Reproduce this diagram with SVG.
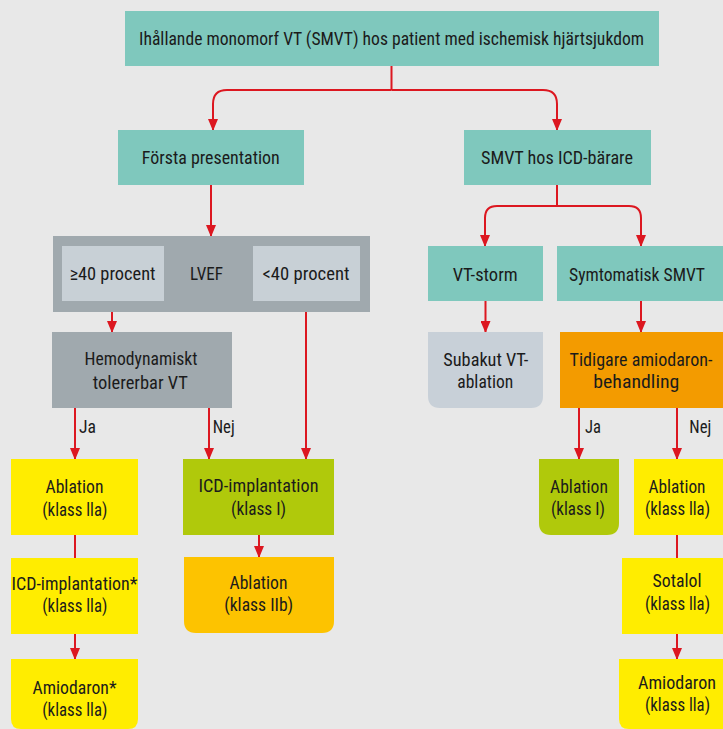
<svg xmlns="http://www.w3.org/2000/svg" width="723" height="729" viewBox="0 0 723 729">
<style>
.t{font-family:"Liberation Sans Narrow","Roboto Condensed","DejaVu Sans Condensed","Liberation Sans",sans-serif;font-size:19px;fill:#1b1b1b;text-anchor:middle}
.s{text-anchor:start}
.teal{fill:#7fc8bd}
.grey{fill:#a0a9ae}
.light{fill:#c8d0d6}
.yellow{fill:#ffed00}
.green{fill:#b0c90b}
.lorange{fill:#fdc300}
.orange{fill:#f39b00}
.c{fill:none;stroke:#dc1720;stroke-width:2}
.a{marker-end:url(#ah)}
</style>
<defs>
<marker id="ah" markerUnits="userSpaceOnUse" viewBox="0 0 12 10" refX="11" refY="5" markerWidth="12" markerHeight="10" orient="auto">
<path d="M0,0 L12,5 L0,10 z" fill="#dc1720"/>
</marker>
</defs>
<rect width="723" height="729" fill="#e8e8e8"/>

<g id="connectors">
<path class="c" d="M391.5,66 V90"/>
<path class="c a" d="M391.5,90 H227 Q213,90 213,104 V130"/>
<path class="c a" d="M391.5,90 H543 Q557,90 557,104 V130"/>
<path class="c a" d="M211,185 V236"/>
<path class="c a" d="M112,293 V332"/>
<path class="c a" d="M306,293 V459"/>
<path class="c a" d="M75,408 V459"/>
<path class="c a" d="M209,408 V459"/>
<path class="c" d="M75,535 V558"/>
<path class="c a" d="M75,634 V659"/>
<path class="c a" d="M259,535 V557"/>
<path class="c" d="M557,185 V206"/>
<path class="c a" d="M557,206 H497 Q485,206 485,218 V246"/>
<path class="c a" d="M557,206 H629 Q641,206 641,218 V246"/>
<path class="c a" d="M485.5,301 V332"/>
<path class="c a" d="M641,301 V332"/>
<path class="c a" d="M579,408 V459"/>
<path class="c a" d="M677,408 V459"/>
<path class="c" d="M677,535 V558"/>
<path class="c a" d="M677,634 V659"/>
</g>

<g id="n-top">
<rect class="teal" x="125" y="11" width="534" height="55"/>
<text class="t" x="391.5" y="45" textLength="505" lengthAdjust="spacingAndGlyphs">Ihållande monomorf VT (SMVT) hos patient med ischemisk hjärtsjukdom</text>
</g>

<g id="n-forsta">
<rect class="teal" x="118" y="130" width="186" height="55"/>
<text class="t" x="210.8" y="164" textLength="138" lengthAdjust="spacingAndGlyphs">Första presentation</text>
</g>

<g id="n-icdbarare">
<rect class="teal" x="464" y="130" width="187" height="55"/>
<text class="t" x="557" y="164" textLength="152" lengthAdjust="spacingAndGlyphs">SMVT hos ICD-bärare</text>
</g>

<g id="n-lvef">
<rect class="grey" x="53" y="236" width="317" height="76"/>
<text class="t" x="206.5" y="280" textLength="33" lengthAdjust="spacingAndGlyphs">LVEF</text>
</g>

<g id="n-ge40">
<rect class="light" x="62" y="246" width="102" height="55"/>
<text class="t" x="112.5" y="280" textLength="86" lengthAdjust="spacingAndGlyphs">≥40 procent</text>
</g>

<g id="n-lt40">
<rect class="light" x="253" y="246" width="107" height="55"/>
<text class="t" x="306" y="280" textLength="87" lengthAdjust="spacingAndGlyphs">&lt;40 procent</text>
</g>

<g id="n-hemo">
<rect class="grey" x="52" y="332" width="180" height="76"/>
<text class="t" x="141" y="365" textLength="113" lengthAdjust="spacingAndGlyphs">Hemodynamiskt</text>
<text class="t" x="140.3" y="388.5" textLength="95" lengthAdjust="spacingAndGlyphs">tolererbar VT</text>
</g>

<g id="labels-left">
<text class="t s" x="79" y="433" textLength="17" lengthAdjust="spacingAndGlyphs">Ja</text>
<text class="t s" x="212.7" y="433" textLength="22" lengthAdjust="spacingAndGlyphs">Nej</text>
</g>

<g id="n-abl-left">
<rect class="yellow" x="11" y="459" width="127" height="76"/>
<text class="t" x="74.5" y="492.5" textLength="58" lengthAdjust="spacingAndGlyphs">Ablation</text>
<text class="t" x="74.8" y="516" textLength="65" lengthAdjust="spacingAndGlyphs">(klass lla)</text>
</g>

<g id="n-icd-star">
<rect class="yellow" x="11" y="558" width="127" height="76"/>
<text class="t" x="74.5" y="589.5" textLength="126" lengthAdjust="spacingAndGlyphs">ICD-implantation*</text>
<text class="t" x="74.8" y="612" textLength="65" lengthAdjust="spacingAndGlyphs">(klass lla)</text>
</g>

<g id="n-amio-star">
<path class="yellow" d="M11,659 H138 V719 Q138,729 128,729 H21 Q11,729 11,719 Z"/>
<text class="t" x="74.5" y="693.5" textLength="84" lengthAdjust="spacingAndGlyphs">Amiodaron*</text>
<text class="t" x="74.8" y="716" textLength="65" lengthAdjust="spacingAndGlyphs">(klass lla)</text>
</g>

<g id="n-icd-green">
<rect class="green" x="183" y="459" width="151" height="76"/>
<text class="t" x="258.5" y="492" textLength="120" lengthAdjust="spacingAndGlyphs">ICD-implantation</text>
<text class="t" x="258.5" y="515" textLength="55" lengthAdjust="spacingAndGlyphs">(klass I)</text>
</g>

<g id="n-abl-iib">
<path class="lorange" d="M184,557 H334 V621 Q334,633 322,633 H196 Q184,633 184,621 Z"/>
<text class="t" x="258.5" y="588.5" textLength="58" lengthAdjust="spacingAndGlyphs">Ablation</text>
<text class="t" x="258.7" y="611" textLength="69" lengthAdjust="spacingAndGlyphs">(klass IIb)</text>
</g>

<g id="n-vtstorm">
<rect class="teal" x="428" y="246" width="115" height="55"/>
<text class="t" x="485.2" y="281" textLength="65" lengthAdjust="spacingAndGlyphs">VT-storm</text>
</g>

<g id="n-symt">
<rect class="teal" x="557" y="246" width="166" height="55"/>
<text class="t" x="637" y="281" textLength="136" lengthAdjust="spacingAndGlyphs">Symtomatisk SMVT</text>
</g>

<g id="n-subakut">
<path fill="#c8d0d8" d="M428,332 H543 V396 Q543,408 531,408 H440 Q428,408 428,396 Z"/>
<text class="t" x="485.8" y="366" textLength="85" lengthAdjust="spacingAndGlyphs">Subakut VT-</text>
<text class="t" x="485.3" y="388" textLength="56" lengthAdjust="spacingAndGlyphs">ablation</text>
</g>

<g id="n-tidigare">
<rect class="orange" x="560" y="332" width="163" height="76"/>
<text class="t" x="641" y="366" textLength="143" lengthAdjust="spacingAndGlyphs">Tidigare amiodaron-</text>
<text class="t" x="636.3" y="388" textLength="86" lengthAdjust="spacingAndGlyphs">behandling</text>
</g>

<g id="labels-right">
<text class="t s" x="585" y="433" textLength="16" lengthAdjust="spacingAndGlyphs">Ja</text>
<text class="t s" x="689.3" y="433" textLength="22" lengthAdjust="spacingAndGlyphs">Nej</text>
</g>

<g id="n-abl-green">
<path class="green" d="M539,459 H619 V523 Q619,535 607,535 H551 Q539,535 539,523 Z"/>
<text class="t" x="579" y="492.5" textLength="58" lengthAdjust="spacingAndGlyphs">Ablation</text>
<text class="t" x="578" y="515" textLength="54" lengthAdjust="spacingAndGlyphs">(klass I)</text>
</g>

<g id="n-abl-right">
<rect class="yellow" x="634" y="459" width="89" height="76"/>
<text class="t" x="677" y="492.5" textLength="57" lengthAdjust="spacingAndGlyphs">Ablation</text>
<text class="t" x="677.5" y="515" textLength="65" lengthAdjust="spacingAndGlyphs">(klass lla)</text>
</g>

<g id="n-sotalol">
<rect class="yellow" x="622" y="558" width="101" height="76"/>
<text class="t" x="677" y="587" textLength="49" lengthAdjust="spacingAndGlyphs">Sotalol</text>
<text class="t" x="677.5" y="609.5" textLength="65" lengthAdjust="spacingAndGlyphs">(klass lla)</text>
</g>

<g id="n-amio-right">
<path class="yellow" d="M619,659 H723 V729 H629 Q619,729 619,719 Z"/>
<text class="t" x="677" y="688.5" textLength="78" lengthAdjust="spacingAndGlyphs">Amiodaron</text>
<text class="t" x="677.5" y="711" textLength="65" lengthAdjust="spacingAndGlyphs">(klass lla)</text>
</g>
</svg>
